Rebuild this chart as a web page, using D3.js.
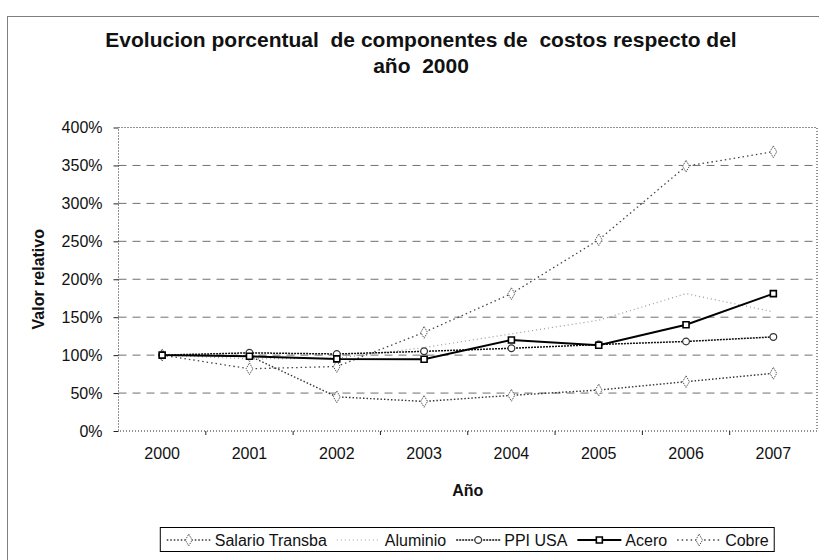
<!DOCTYPE html>
<html>
<head>
<meta charset="utf-8">
<script src="https://cdn.jsdelivr.net/npm/d3@7"></script>
<style>
    body { margin: 0; background: #fff; }
    svg { display: block; font-family: "Liberation Sans", Arial, sans-serif; }
</style>
</head>
<body>
<svg id="chart" width="819" height="560"></svg>
<script>
// chart data
const years = ["2000", "2001", "2002", "2003", "2004", "2005", "2006", "2007"];
const salarioTransba = [1.00, 0.99, 0.45, 0.39, 0.47, 0.54, 0.65, 0.76];
const aluminio = [1.00, 0.95, 0.96, 1.10, 1.28, 1.46, 1.81, 1.57];
const ppiUsa = [1.00, 1.03, 1.015, 1.05, 1.09, 1.14, 1.18, 1.24];
const acero = [1.00, 0.985, 0.95, 0.945, 1.20, 1.13, 1.40, 1.81];
const cobre = [1.00, 0.82, 0.85, 1.30, 1.81, 2.52, 3.49, 3.68];
const yTicks = [0, 0.5, 1, 1.5, 2, 2.5, 3, 3.5, 4];
const seriesNames = ["Salario Transba", "Aluminio", "PPI USA", "Acero", "Cobre"];

/**
 *
 */
class LineChartD3 {

    /**
     *
     * @param svgSelector
     * @param margin
     */
    constructor({ svgSelector, margin = { top: 127.5, right: 2, bottom: 129, left: 118.5 } }) {
        this.svg = d3.select(svgSelector);
        this.margin = margin;
        this.width = +this.svg.attr("width") - margin.left - margin.right;
        this.height = +this.svg.attr("height") - margin.top - margin.bottom;

        // outer chart frame, cut off at the right and bottom like the original
        this.svg.append("rect")
            .attr("x", 7.5).attr("y", 16.5)
            .attr("width", 840).attr("height", 600)
            .attr("fill", "none")
            .attr("stroke", "#7f7f7f");

        this.focus = this.svg.append("g")
            .attr("transform", "translate(" + margin.left + "," + margin.top + ")");
    }

    /**
     *
     */
    createAxis() {
        this.xScale = d3.scaleBand().domain(years).range([0, this.width]).padding(0);
        this.yScale = d3.scaleLinear().domain([0, 4]).range([this.height, 0]);

        // dashed gridlines
        this.focus.append("g")
            .selectAll("line")
            .data(yTicks.filter(d => d > 0 && d < 4))
            .enter().append("line")
            .attr("x1", 0).attr("x2", this.width)
            .attr("y1", d => this.yScale(d)).attr("y2", d => this.yScale(d))
            .attr("stroke", "#707070")
            .attr("stroke-dasharray", "8,6");

        // dotted plot border
        this.focus.append("rect")
            .attr("width", this.width).attr("height", this.height)
            .attr("fill", "none")
            .attr("stroke", "#222")
            .attr("stroke-dasharray", "1,2");

        this.yAxis = d3.axisLeft(this.yScale)
            .tickValues(yTicks)
            .tickSize(5)
            .tickPadding(11)
            .tickFormat(d3.format(".0%"));

        let gy = this.focus.append("g").attr("class", "axis axis--y").call(this.yAxis);
        gy.select(".domain").remove();
        gy.selectAll("line").attr("stroke", "#222");
        gy.selectAll("text").attr("font-size", 16).attr("fill", "#111").attr("font-family", null);

        // tick marks sit between the categories
        this.xAxis = d3.axisBottom(this.xScale).tickSize(0).tickPadding(17);
        let gx = this.focus.append("g")
            .attr("class", "axis axis--x")
            .attr("transform", "translate(0," + this.height + ")")
            .call(this.xAxis);
        gx.select(".domain").remove();
        gx.selectAll("text").attr("font-size", 16).attr("fill", "#111").attr("font-family", null);
        gx.selectAll(".sep")
            .data(years.slice(1))
            .enter().append("line")
            .attr("x1", d => this.xScale(d)).attr("x2", d => this.xScale(d))
            .attr("y1", 0).attr("y2", 4)
            .attr("stroke", "#222");
    }

    /**
     *
     * @param values
     * @param style
     */
    addLine({ values, style }) {
        let line = d3.line()
            .x((d, i) => this.xScale(years[i]) + this.xScale.bandwidth() / 2)
            .y((d) => this.yScale(d));

        this.focus.append("path")
            .datum(values)
            .attr("fill", "none")
            .attr("stroke", style.stroke)
            .attr("stroke-width", style.width)
            .attr("stroke-dasharray", style.dash)
            .attr("d", line);

        if (style.marker) {
            this.focus.append("g")
                .selectAll("path")
                .data(values)
                .enter().append("path")
                .attr("transform", (d, i) => "translate(" + (this.xScale(years[i]) + this.xScale.bandwidth() / 2) + "," + this.yScale(d) + ")")
                .attr("d", d3.symbol().type(style.marker).size(style.markerSize))
                .attr("fill", "#fff")
                .attr("stroke", style.markerStroke)
                .attr("stroke-width", style.markerWidth)
                .attr("stroke-dasharray", style.markerDash);
        }
    }

    /**
     *
     * @param items
     */
    createLegend({ items }) {
        let g = this.svg.append("g");
        let x = 0;
        items.forEach((it) => {
            let sample = g.append("g").attr("transform", "translate(" + x + ",0)");
            sample.append("line")
                .attr("x1", 0).attr("x2", 44).attr("y1", 0).attr("y2", 0)
                .attr("stroke", it.style.stroke)
                .attr("stroke-width", it.style.width)
                .attr("stroke-dasharray", it.style.dash);
            if (it.style.marker) {
                sample.append("path")
                    .attr("transform", "translate(22,0)")
                    .attr("d", d3.symbol().type(it.style.marker).size(it.style.markerSize))
                    .attr("fill", "#fff")
                    .attr("stroke", it.style.markerStroke)
                    .attr("stroke-width", it.style.markerWidth)
                    .attr("stroke-dasharray", it.style.markerDash);
            }
            let t = g.append("text")
                .attr("x", x + 48).attr("y", 0).attr("dy", "0.35em")
                .attr("font-size", 16).attr("fill", "#111")
                .text(it.name);
            x += 48 + t.node().getComputedTextLength() + 10;
        });
        let w = x - 10 + 12;
        let cx = this.margin.left + this.width / 2;
        g.attr("transform", "translate(" + (cx - w / 2 + 6) + ",540)");
        g.insert("rect", ":first-child")
            .attr("x", -6.5).attr("y", -12.5)
            .attr("width", w).attr("height", 24)
            .attr("fill", "#fff")
            .attr("stroke", "#000");
    }

    /**
     *
     * @param title
     * @param xAxisLabel
     * @param yAxisLabel
     */
    createLabels({ title, xAxisLabel, yAxisLabel }) {
        let t = this.svg.append("text")
            .attr("text-anchor", "middle")
            .style("white-space", "pre")
            .attr("font-size", 21).attr("font-weight", "bold").attr("fill", "#111");
        t.append("tspan").attr("x", 421).attr("y", 47).text(title[0]);
        t.append("tspan").attr("x", 421).attr("y", 73).text(title[1]);

        this.svg.append("text")
            .attr("x", this.margin.left + this.width / 2).attr("y", 496)
            .attr("text-anchor", "middle")
            .attr("font-size", 16).attr("font-weight", "bold").attr("fill", "#111")
            .text(xAxisLabel);

        this.svg.append("text")
            .attr("transform", "translate(44," + (this.margin.top + this.height / 2) + ") rotate(-90)")
            .attr("text-anchor", "middle")
            .attr("font-size", 16).attr("font-weight", "bold").attr("fill", "#111")
            .text(yAxisLabel);
    }
}

const styles = [
    { stroke: "#333", width: 1.4, dash: "1.5,2", marker: d3.symbolDiamond, markerSize: 40, markerStroke: "#555", markerWidth: 1, markerDash: "1.5,1" },
    { stroke: "#999", width: 1.2, dash: "1,3", marker: null },
    { stroke: "#111", width: 1.5, dash: "2,1", marker: d3.symbolCircle, markerSize: 36, markerStroke: "#333", markerWidth: 1.2, markerDash: null },
    { stroke: "#000", width: 2, dash: null, marker: d3.symbolSquare, markerSize: 36, markerStroke: "#000", markerWidth: 1.6, markerDash: null },
    { stroke: "#444", width: 1.3, dash: "1.5,3", marker: d3.symbolDiamond, markerSize: 40, markerStroke: "#555", markerWidth: 1, markerDash: "1.5,1" }
];
const seriesValues = [salarioTransba, aluminio, ppiUsa, acero, cobre];

let chart = new LineChartD3({ svgSelector: "#chart" });
chart.createAxis();
// draw Aluminio first so darker lines stay on top
[1, 4, 0, 2, 3].forEach(i => chart.addLine({ values: seriesValues[i], style: styles[i] }));
chart.createLabels({
    title: ["Evolucion porcentual  de componentes de  costos respecto del", "año  2000"],
    xAxisLabel: "Año",
    yAxisLabel: "Valor relativo"
});
chart.createLegend({ items: seriesNames.map((n, i) => ({ name: n, style: styles[i] })) });
</script>
</body>
</html>
